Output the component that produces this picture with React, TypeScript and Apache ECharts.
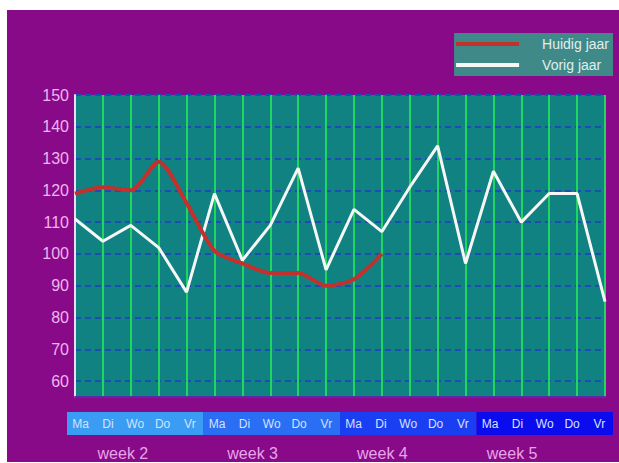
import React, { useEffect, useRef } from "react";
import * as echarts from "echarts";

const days = ["Ma", "Di", "Wo", "Do", "Vr"];
const weeks = ["week 2", "week 3", "week 4", "week 5"];
const dayCategories = weeks.flatMap((w) => days.map((d) => `${d}|${w}`));
const huidigJaar = [119, 121, 120, 129, 116, 101, 97, 94, 94, 90, 92, 100];
const vorigJaar = [111, 104, 109, 102, 88, 119, 98, 109, 127, 95, 114, 107, 121, 134, 97, 126, 110, 119, 119, 85];
const weekColors = ["#3a9cf2", "#2a6ef4", "#1a3ff2", "#0a0cee"];
const yTicks = [60, 70, 80, 90, 100, 110, 120, 130, 140, 150];

const FONT = "'Liberation Sans', Arial, sans-serif";

export default function App() {
  const ref = useRef<HTMLDivElement>(null);
  useEffect(() => {
    if (!ref.current) return;
    const chart = echarts.init(ref.current, undefined, { renderer: "svg" });
    chart.setOption({
      animation: false,
      backgroundColor: "#ffffff",
      graphic: [
        {
          type: "rect",
          z: -10,
          shape: { x: 7, y: 10, width: 612, height: 452 },
          style: { fill: "#880a88" },
        },
      ],
      legend: {
        data: ["Huidig jaar", "Vorig jaar"],
        orient: "vertical",
        right: 6,
        top: 33,
        backgroundColor: "#3f8a88",
        padding: [4, 4, 4, 2],
        itemWidth: 63,
        itemHeight: 4,
        itemGap: 7,
        icon: "rect",
        textStyle: { color: "#e0eeee", fontSize: 14, fontFamily: FONT, padding: [0, 0, 0, 18] },
      },
      grid: [
        { left: 75, top: 95, width: 530, height: 302, show: true, backgroundColor: "#108282", borderWidth: 0 },
        { left: 67, top: 412, width: 546, height: 23 },
        { left: 58, top: 444, width: 519, height: 1 },
      ],
      xAxis: [
        {
          type: "category",
          gridIndex: 0,
          data: dayCategories,
          boundaryGap: false,
          axisLabel: { show: false },
          axisTick: { show: false },
          axisLine: { show: true, lineStyle: { color: "#5a2aa8", width: 2 } },
          splitLine: { show: true, interval: 0, lineStyle: { color: "#22d460", width: 2 } },
        },
        {
          type: "category",
          gridIndex: 1,
          data: weeks,
          position: "top",
          axisLabel: { show: false },
          axisTick: { show: false },
          axisLine: { show: false },
        },
        {
          type: "category",
          gridIndex: 1,
          data: dayCategories,
          position: "bottom",
          z: 10,
          axisTick: { show: false },
          axisLine: { show: false },
          axisLabel: {
            inside: true,
            interval: 0,
            margin: 5,
            color: "#d4e2ff",
            fontSize: 12,
            fontFamily: FONT,
            formatter: (v: string) => v.split("|")[0],
          },
        },
        {
          type: "category",
          gridIndex: 2,
          data: weeks,
          axisTick: { show: false },
          axisLine: { show: false },
          axisLabel: { margin: 0, color: "#e8a4e8", fontSize: 16, fontFamily: FONT },
        },
      ],
      yAxis: [
        {
          type: "value",
          gridIndex: 0,
          min: 55,
          max: 150,
          interval: 5,
          axisLine: { show: true, lineStyle: { color: "#eedcf2", width: 2 } },
          axisTick: { show: false },
          axisLabel: {
            color: "#f0b4f0",
            fontSize: 16,
            fontFamily: FONT,
            margin: 6,
            formatter: (v: number) => (yTicks.includes(v) ? String(v) : ""),
          },
          splitLine: {
            show: true,
            lineStyle: { color: ["rgba(0,0,0,0)", "#1c4cb4"], width: 2, type: [6, 4] },
          },
        },
        { type: "value", gridIndex: 1, min: 0, max: 1, show: false },
        { type: "value", gridIndex: 2, min: 0, max: 1, show: false },
      ],
      series: [
        {
          name: "Vorig jaar",
          type: "line",
          xAxisIndex: 0,
          yAxisIndex: 0,
          data: vorigJaar,
          symbol: "none",
          color: "#f6f6f6",
          lineStyle: { color: "#f6f6f6", width: 3 },
          z: 3,
        },
        {
          name: "Huidig jaar",
          type: "line",
          xAxisIndex: 0,
          yAxisIndex: 0,
          data: huidigJaar,
          symbol: "none",
          smooth: 0.25,
          color: "#c4302c",
          lineStyle: { color: "#c4302c", width: 4 },
          z: 4,
        },
        {
          type: "bar",
          xAxisIndex: 1,
          yAxisIndex: 1,
          barCategoryGap: "0%",
          silent: true,
          data: weeks.map((_, i) => ({ value: 1, itemStyle: { color: weekColors[i] } })),
          z: 1,
        },
        {
          type: "line",
          xAxisIndex: 3,
          yAxisIndex: 2,
          data: [],
          symbol: "none",
        },
      ],
    });
    return () => chart.dispose();
  }, []);
  return <div ref={ref} style={{ position: "absolute", left: 0, top: 0, width: 619, height: 463 }} />;
}
